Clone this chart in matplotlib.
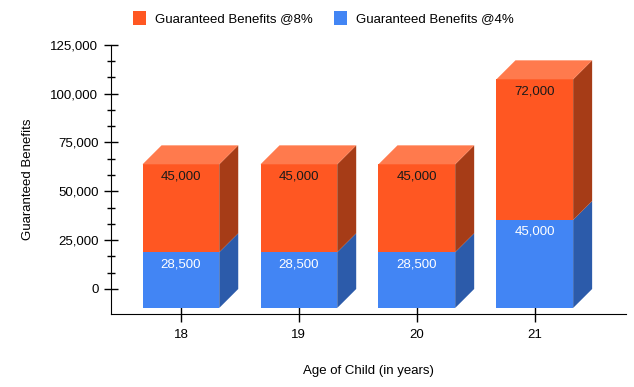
import matplotlib
matplotlib.use('Agg')
import matplotlib.pyplot as plt
from matplotlib.patches import Polygon, Patch
from matplotlib.ticker import FuncFormatter, FixedLocator

plt.rcParams['font.family'] = ['Liberation Sans', 'DejaVu Sans']

# Data
ages = ['18', '19', '20', '21']
benefit_4 = [28500, 28500, 28500, 45000]
benefit_8 = [45000, 45000, 45000, 72000]

# colours: front, side, top
orange = ('#FF5722', '#A63C17', '#FF7A4D')
blue = ('#4285F4', '#2C5BAA', '#6FA3F7')

fig = plt.figure(figsize=(6.34, 3.87), dpi=100)
ax = fig.add_axes([0.175, 0.1886, 0.812, 0.6959])

half_w = 0.325   # half width of front face (category units)
dx = 0.161       # depth offset in x (category units)
dy = 9700        # depth offset in y (data units)


def draw_box(x, bottom, top, colors, draw_top):
    front, side, topc = colors
    l, r = x - half_w, x + half_w
    ax.add_patch(Polygon([(l, bottom - dy), (r, bottom - dy), (r, top - dy), (l, top - dy)],
                         closed=True, facecolor=front, edgecolor='none', zorder=3))
    ax.add_patch(Polygon([(r, bottom - dy), (r + dx, bottom), (r + dx, top), (r, top - dy)],
                         closed=True, facecolor=side, edgecolor='none', zorder=3))
    if draw_top:
        ax.add_patch(Polygon([(l, top - dy), (l + dx, top), (r + dx, top), (r, top - dy)],
                             closed=True, facecolor=topc, edgecolor='none', zorder=3))


for i in range(len(ages)):
    b4 = benefit_4[i]
    b8 = benefit_8[i]
    draw_box(i, 0, b4, blue, False)
    draw_box(i, b4, b4 + b8, orange, True)
    ax.text(i, b4 - dy - 6100, f'{b4:,}', ha='center', va='center',
            color='white', fontsize=9.5, zorder=4)
    ax.text(i, b4 + b8 - dy - 6100, f'{b8:,}', ha='center', va='center',
            color='#1a1a1a', fontsize=9.5, zorder=4)

ax.set_xlim(-0.593, 3.771)
ax.set_ylim(-12800, 125000)
ax.set_xticks(range(len(ages)))
ax.set_xticklabels(ages)
ax.set_yticks(range(0, 125001, 25000))
minor = [m * 25000 / 3 for m in range(16) if m % 3 != 0]
ax.yaxis.set_minor_locator(FixedLocator(minor))
ax.yaxis.set_major_formatter(FuncFormatter(lambda v, p: f'{int(v):,}'))

for s in ['top', 'right']:
    ax.spines[s].set_visible(False)

ax.tick_params(axis='y', which='major', direction='inout', length=10, width=1,
               labelsize=9.5, pad=4, colors='black')
ax.tick_params(axis='y', which='minor', direction='inout', length=6, width=1)
ax.tick_params(axis='x', direction='inout', length=12, width=1, labelsize=9.5, pad=5)

ax.set_ylabel('Guaranteed Benefits', fontsize=9.5, labelpad=12)
ax.set_xlabel('Age of Child (in years)', fontsize=9.5, labelpad=17)

handles = [Patch(facecolor=orange[0], label='Guaranteed Benefits @8%'),
           Patch(facecolor=blue[0], label='Guaranteed Benefits @4%')]
fig.legend(handles=handles, loc='center', bbox_to_anchor=(0.51, 0.953), ncol=2,
           frameon=False, fontsize=9.5, handlelength=1.0, handleheight=1.3,
           handletextpad=0.7, columnspacing=1.6)

fig.savefig('out.png', dpi=100)
